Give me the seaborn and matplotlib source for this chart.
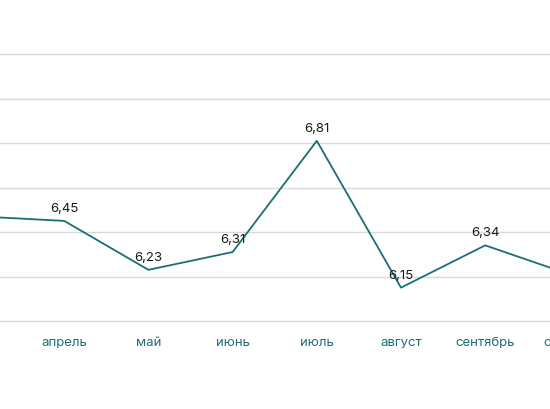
import matplotlib
matplotlib.use("Agg")
import matplotlib.pyplot as plt
import pandas as pd
import seaborn as sns

# Monthly values (the first and last month fall outside the visible frame).
months = ["март", "апрель", "май", "июнь", "июль", "август", "сентябрь", "октябрь"]
values = [6.47, 6.45, 6.23, 6.31, 6.81, 6.15, 6.34, 6.21]
grid_levels = [6.0, 6.2, 6.4, 6.6, 6.8, 7.0, 7.2]

LINE_COLOR = "#1b6f74"
TICK_COLOR = "#1f6f78"


def main() -> None:
    sns.set_style("white")
    plt.rcParams["font.family"] = ["Inter", "DejaVu Sans"]

    df = pd.DataFrame({"month": months, "value": values})

    fig = plt.figure(figsize=(5.5, 4.1), dpi=100)
    # Axes run past the figure edges, like a cropped screenshot.
    ax = fig.add_axes([-0.1129, 0.2146, 1.2247, 0.6512])

    sns.lineplot(data=df, x="month", y="value", sort=False, color=LINE_COLOR,
                 linewidth=1.3, ax=ax)

    for i, v in enumerate(values):
        ax.annotate(f"{v:.2f}".replace(".", ","), (i, v), xytext=(0, 5),
                    textcoords="offset points", ha="center", va="bottom",
                    fontsize=9.5, color="#1a1a1a")

    ax.set_xlim(-0.5, len(months) - 0.5)
    ax.set_ylim(grid_levels[0], grid_levels[-1])
    ax.set_yticks(grid_levels)
    ax.set_yticklabels([])
    ax.grid(axis="y", color="#d9d9d9", linewidth=1.0)
    for gl in ax.get_ygridlines():
        gl.set_clip_on(False)
    ax.set_axisbelow(True)
    for side in ax.spines.values():
        side.set_visible(False)
    ax.tick_params(axis="x", length=0, pad=11, labelsize=9.5, labelcolor=TICK_COLOR)
    ax.tick_params(axis="y", length=0)
    ax.set_xlabel("")
    ax.set_ylabel("")

    fig.savefig("out.png", dpi=100)


if __name__ == "__main__":
    main()
